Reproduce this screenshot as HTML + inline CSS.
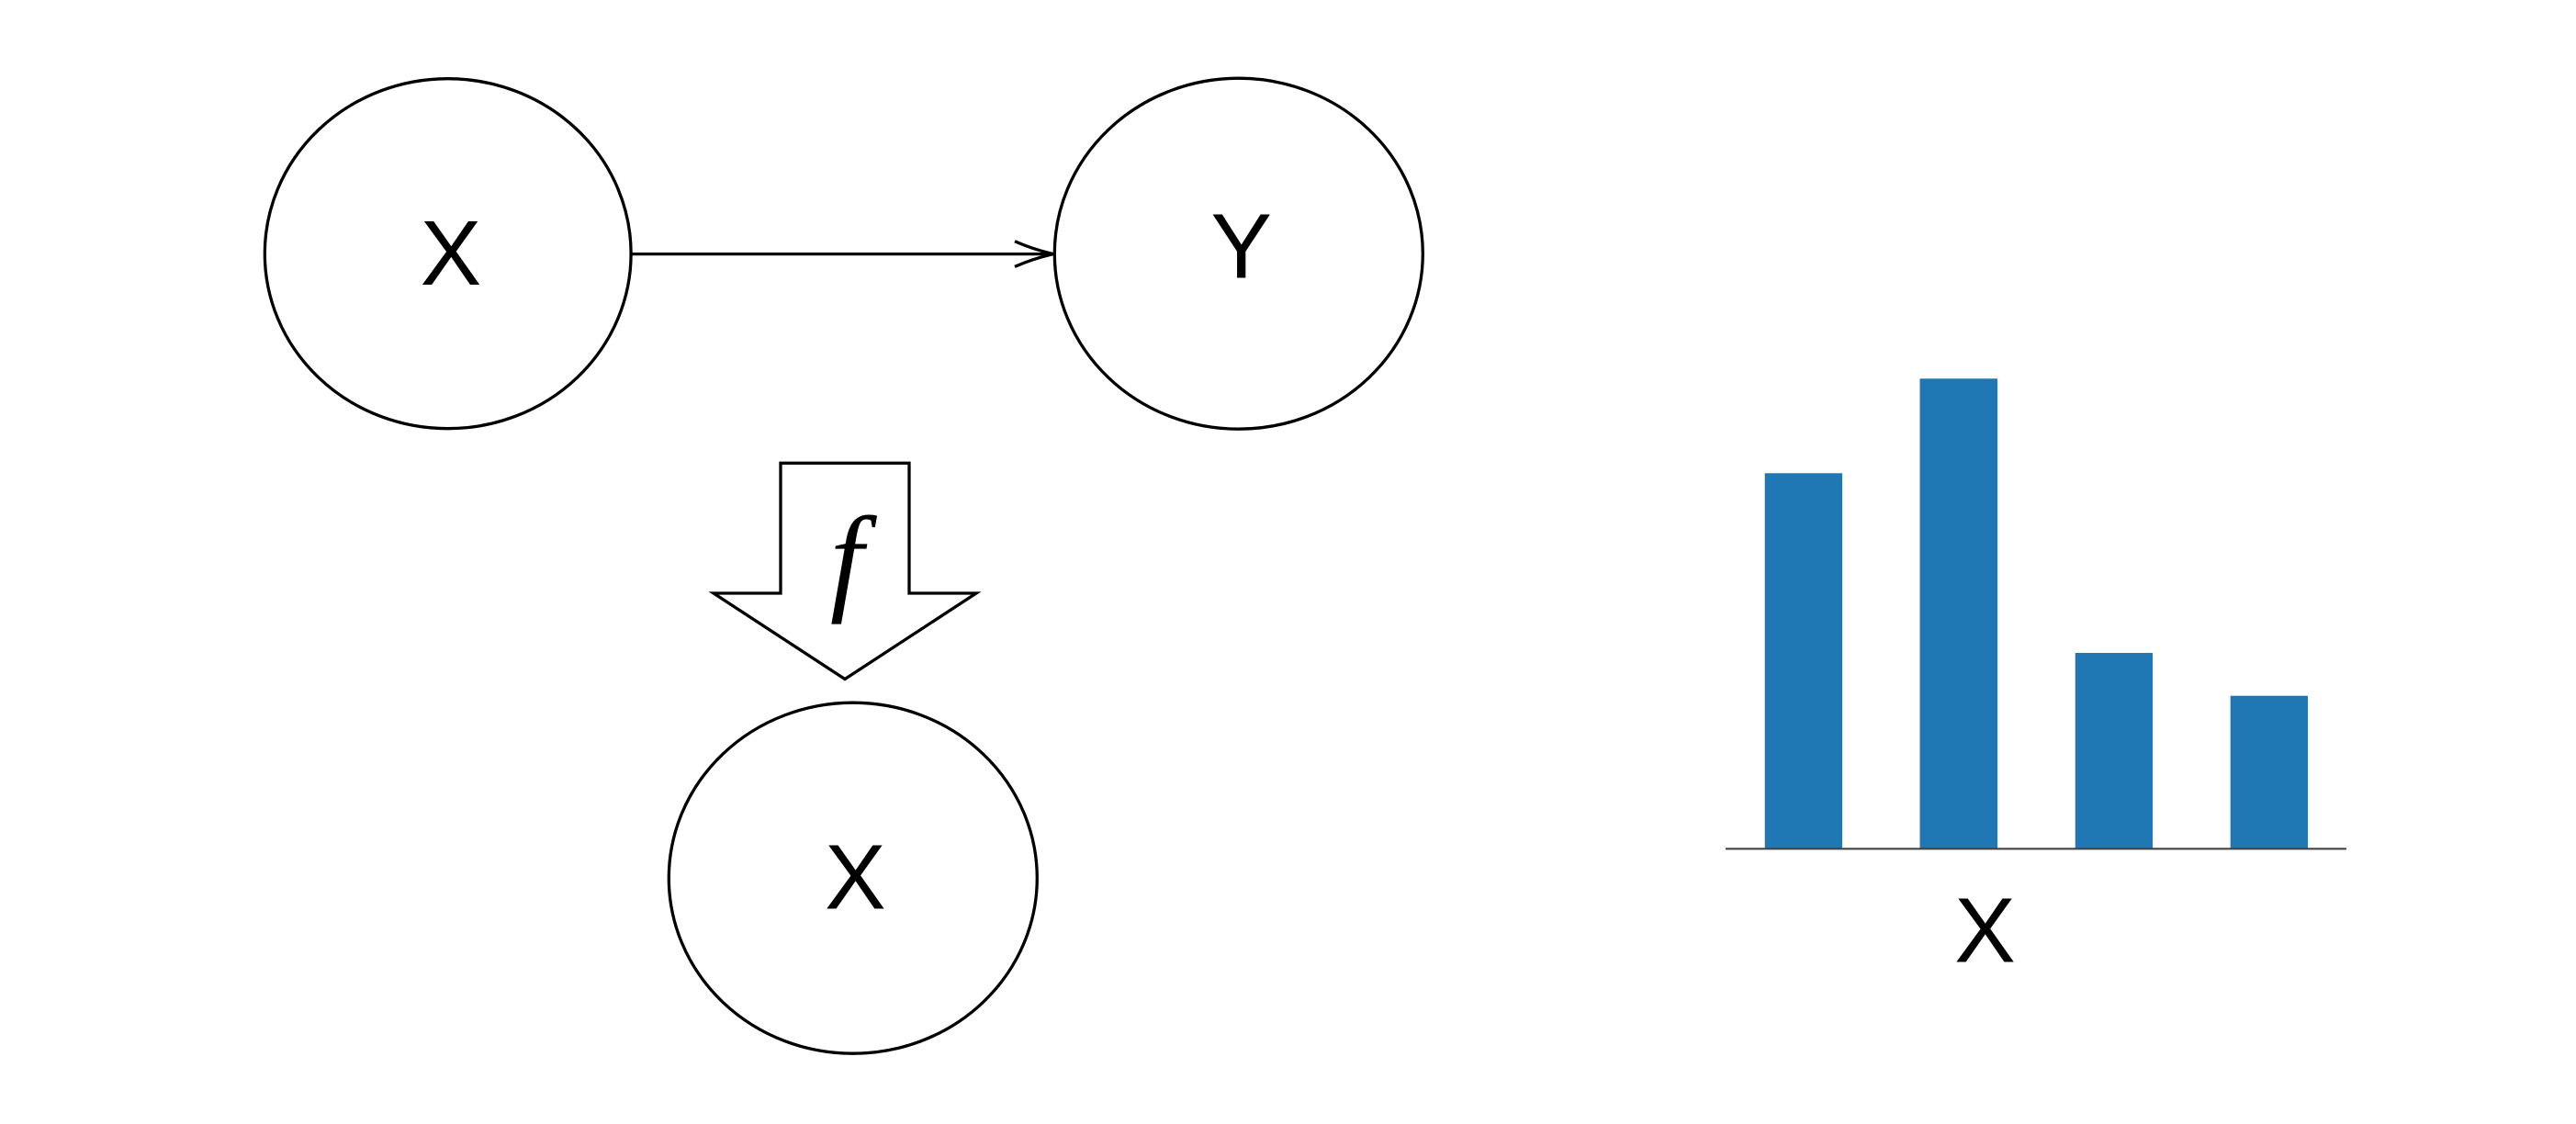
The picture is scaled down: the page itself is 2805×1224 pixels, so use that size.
<!DOCTYPE html>
<html>
<head>
<meta charset="utf-8">
<style>
  html, body { margin: 0; padding: 0; background: #ffffff; }
  body { width: 2805px; height: 1224px; overflow: hidden; }
  svg { display: block; }
</style>
</head>
<body>
<svg width="2805" height="1224" viewBox="0 0 2805 1224" xmlns="http://www.w3.org/2000/svg">
  <rect x="0" y="0" width="2805" height="1224" fill="#ffffff"/>

  <!-- Ellipse X (top-left) -->
  <ellipse cx="487.7" cy="276.2" rx="199.4" ry="190.5" fill="none" stroke="#000" stroke-width="3.3"/>
  <text x="491" y="310" font-family="Liberation Sans, Arial, sans-serif" font-size="100" text-anchor="middle" fill="#000">X</text>

  <!-- Ellipse Y -->
  <ellipse cx="1348.8" cy="276.2" rx="200.5" ry="191" fill="none" stroke="#000" stroke-width="3.3"/>
  <text x="1351.7" y="302.3" font-family="Liberation Sans, Arial, sans-serif" font-size="100" text-anchor="middle" fill="#000">Y</text>

  <!-- Connector X -> Y -->
  <line x1="687.5" y1="276.6" x2="1146" y2="276.6" stroke="#000" stroke-width="3.3"/>
  <path d="M1105,262.8 Q1126,272 1147,276.6 Q1126,281.2 1105,290.4" fill="none" stroke="#000" stroke-width="3.3" stroke-linecap="butt" stroke-linejoin="miter"/>

  <!-- Block arrow f -->
  <polygon points="850,504.3 990,504.3 990,646 1063,646 920,739.5 777,646 850,646" fill="#fff" stroke="#000" stroke-width="3.3" stroke-linejoin="miter"/>
  <text x="922" y="652" font-family="Liberation Serif, 'Times New Roman', serif" font-style="italic" font-size="130" text-anchor="middle" fill="#000">f</text>

  <!-- Ellipse X (bottom) -->
  <ellipse cx="928.8" cy="956.2" rx="200.5" ry="191" fill="none" stroke="#000" stroke-width="3.3"/>
  <text x="931.3" y="989.3" font-family="Liberation Sans, Arial, sans-serif" font-size="100" text-anchor="middle" fill="#000">X</text>

  <!-- Bar chart -->
  <rect x="1921.7" y="515.3" width="84.3" height="409" fill="#1f77b4"/>
  <rect x="2090.5" y="412.3" width="84.5" height="512" fill="#1f77b4"/>
  <rect x="2259.7" y="711" width="84.3" height="213.3" fill="#1f77b4"/>
  <rect x="2428.7" y="757.7" width="84.3" height="166.6" fill="#1f77b4"/>
  <line x1="1879" y1="924.3" x2="2555" y2="924.3" stroke="#444" stroke-width="2.2"/>
  <text x="2161.5" y="1047.7" font-family="Liberation Sans, Arial, sans-serif" font-size="100" text-anchor="middle" fill="#000">X</text>
</svg>
</body>
</html>
